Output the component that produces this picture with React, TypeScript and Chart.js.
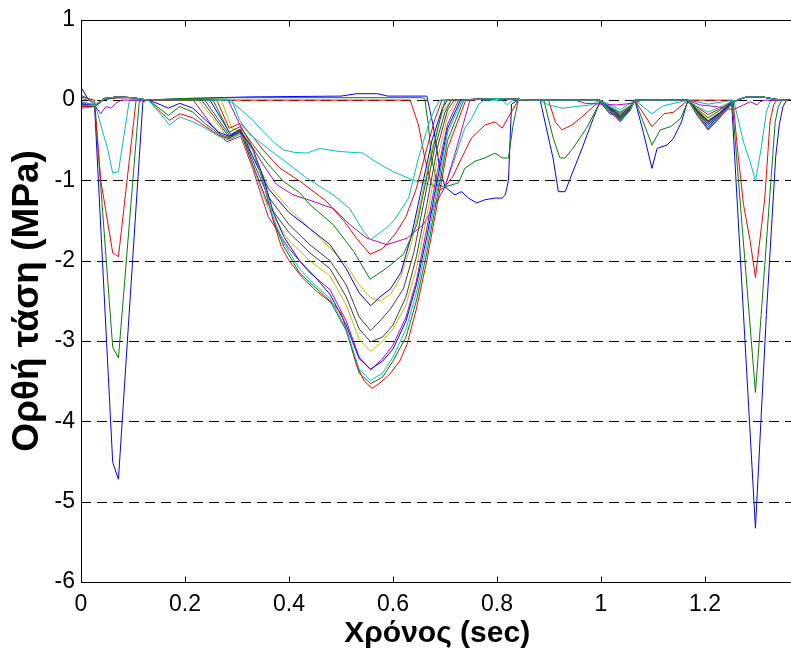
import React, { useEffect, useRef } from "react";
import { Chart, registerables } from "chart.js";

Chart.register(...registerables);

type P = [number, number];

// MATLAB default colour order
const BLUE = "#0000ff";
const GREEN = "#008000";
const RED = "#ff0000";
const CYAN = "#00bfbf";
const MAGENTA = "#bf00bf";
const YELLOW = "#bfbf00";
const GRAY = "#404040";

const X_TICKS = [0, 0.2, 0.4, 0.6, 0.8, 1, 1.2];
const Y_TICKS = [1, 0, -1, -2, -3, -4, -5, -6];
const Y_GRID = [0, -1, -2, -3, -4, -5];
const X_LABEL = "Χρόνος (sec)";
const Y_LABEL = "Ορθή τάση (MPa)";

// [time (sec), stress (MPa)]
const S01: P[] = [[0,0.16],[0.013,0.02],[0.026,-0.06],[0.061,-4.51],[0.072,-4.72],[0.119,-0.02],[0.128,0],[0.2,0.02],[0.325,0.04],[0.5,0.05],[0.53,0.08],[0.57,0.08],[0.59,0.05],[0.665,0.05],[0.677,-0.31],[0.69,-0.85],[0.7,-1.08],[0.719,-1.18],[0.732,-1.14],[0.745,-1.22],[0.761,-1.28],[0.777,-1.24],[0.796,-1.22],[0.81,-1.22],[0.816,-1.18],[0.822,-1.0],[0.828,-0.05],[0.84,0],[0.883,0],[0.908,-0.73],[0.918,-1.14],[0.931,-1.14],[0.946,-0.89],[0.966,-0.56],[0.985,-0.23],[0.998,-0.02],[1.017,-0.17],[1.037,-0.21],[1.056,-0.12],[1.065,0],[1.081,-0.39],[1.098,-0.85],[1.108,-0.6],[1.127,-0.56],[1.139,-0.48],[1.155,-0.27],[1.167,0],[1.185,-0.15],[1.206,-0.3],[1.228,-0.2],[1.245,-0.05],[1.251,0],[1.297,-5.33],[1.318,-2.67],[1.336,-0.7],[1.343,-0.3],[1.35,-0.08],[1.357,0],[1.37,0]];
const S02: P[] = [[0,0.06],[0.013,0.02],[0.026,-0.03],[0.061,-3.08],[0.072,-3.21],[0.112,-0.02],[0.12,0],[0.2,0.02],[0.3,0.03],[0.655,0.03],[0.661,0.02],[0.668,-0.31],[0.674,-0.72],[0.685,-1.05],[0.7,-1.08],[0.726,-1.03],[0.738,-0.85],[0.758,-0.76],[0.777,-0.72],[0.796,-0.66],[0.81,-0.72],[0.822,-0.72],[0.831,-0.31],[0.841,0],[0.89,0],[0.908,-0.47],[0.921,-0.72],[0.931,-0.72],[0.946,-0.6],[0.972,-0.35],[0.998,-0.03],[1.017,-0.15],[1.037,-0.22],[1.056,-0.1],[1.065,0],[1.08,-0.25],[1.098,-0.56],[1.114,-0.37],[1.134,-0.33],[1.153,-0.23],[1.167,-0.02],[1.185,-0.14],[1.206,-0.27],[1.228,-0.17],[1.248,-0.03],[1.252,0],[1.297,-3.64],[1.308,-2.67],[1.335,-0.27],[1.341,-0.08],[1.348,0],[1.37,0]];
const S03: P[] = [[0,0.04],[0.013,0.02],[0.026,0],[0.038,-1.0],[0.061,-1.9],[0.072,-1.95],[0.106,0],[0.633,0],[0.649,-0.31],[0.661,-0.72],[0.674,-1.05],[0.688,-1.13],[0.7,-1.08],[0.715,-0.95],[0.732,-0.72],[0.751,-0.47],[0.777,-0.31],[0.796,-0.27],[0.81,-0.35],[0.822,-0.21],[0.841,0],[0.899,0],[0.912,-0.27],[0.925,-0.37],[0.944,-0.31],[0.963,-0.21],[0.996,-0.02],[1.0,0],[1.017,-0.1],[1.037,-0.15],[1.056,-0.07],[1.065,0],[1.08,-0.15],[1.098,-0.33],[1.121,-0.17],[1.14,-0.15],[1.167,0],[1.254,0],[1.261,-0.52],[1.274,-1.3],[1.287,-1.76],[1.297,-2.21],[1.315,-1.22],[1.325,-0.27],[1.332,-0.06],[1.338,0],[1.37,0]];
const S04: P[] = [[0,0.02],[0.026,-0.02],[0.038,-0.31],[0.051,-0.6],[0.061,-0.91],[0.072,-0.89],[0.093,0],[0.28,0],[0.295,-0.05],[0.312,-0.145],[0.33,-0.25],[0.35,-0.39],[0.37,-0.52],[0.389,-0.62],[0.41,-0.65],[0.434,-0.66],[0.46,-0.6],[0.475,-0.62],[0.498,-0.64],[0.52,-0.65],[0.543,-0.66],[0.56,-0.74],[0.575,-0.8],[0.6,-0.89],[0.64,-1.0],[0.67,-1.05],[0.7,-1.08],[0.715,-0.8],[0.738,-0.35],[0.751,-0.23],[0.765,-0.05],[0.775,0],[0.81,0],[0.82,-0.06],[0.83,0],[0.88,0],[0.9,-0.06],[0.925,-0.1],[0.953,-0.08],[0.98,-0.06],[0.998,0],[1.037,-0.12],[1.065,0],[1.098,-0.17],[1.12,-0.07],[1.167,0],[1.206,-0.05],[1.255,0],[1.274,-0.52],[1.287,-0.77],[1.297,-1.01],[1.308,-0.6],[1.318,-0.15],[1.325,-0.02],[1.33,0],[1.37,0]];
const S05: P[] = [[0,-0.02],[0.026,-0.06],[0.038,-0.17],[0.048,-0.08],[0.058,-0.1],[0.067,-0.04],[0.077,0],[0.283,0],[0.305,-0.3],[0.331,-0.6],[0.35,-0.8],[0.376,-1.05],[0.408,-1.18],[0.446,-1.26],[0.485,-1.35],[0.517,-1.55],[0.55,-1.72],[0.588,-1.8],[0.627,-1.72],[0.658,-1.55],[0.677,-1.35],[0.7,-1.08],[0.72,-0.65],[0.735,-0.3],[0.748,0],[0.8,0.02],[0.86,0],[0.95,0],[0.97,-0.04],[1.0,-0.05],[1.03,-0.06],[1.06,-0.04],[1.08,0],[1.167,0],[1.19,-0.06],[1.22,-0.08],[1.254,-0.12],[1.274,-0.06],[1.287,-0.02],[1.3,-0.06],[1.306,-0.02],[1.315,0],[1.37,0]];
const S06: P[] = [[0,-0.06],[0.027,-0.07],[0.045,0.01],[0.07,0.03],[0.1,0.03],[0.125,0],[0.27,0],[0.29,-0.35],[0.307,-0.4],[0.33,-0.7],[0.36,-1.05],[0.4,-1.35],[0.44,-1.6],[0.479,-1.84],[0.51,-2.05],[0.535,-2.3],[0.557,-2.46],[0.575,-2.5],[0.595,-2.42],[0.615,-2.2],[0.635,-1.8],[0.655,-1.2],[0.675,-0.6],[0.695,-0.15],[0.712,0],[0.76,0.01],[0.8,0.02],[0.84,0.01],[0.86,0],[0.998,0],[1.017,-0.1],[1.037,-0.2],[1.056,-0.1],[1.065,0],[1.167,0],[1.185,-0.12],[1.206,-0.25],[1.228,-0.15],[1.25,-0.04],[1.262,0],[1.28,0.04],[1.31,0.04],[1.335,0.01],[1.35,0],[1.37,0]];
const S07: P[] = [[0,-0.08],[0.027,-0.07],[0.045,0.02],[0.07,0.04],[0.1,0.03],[0.125,0],[0.238,0],[0.287,-0.45],[0.307,-0.38],[0.33,-0.75],[0.36,-1.2],[0.4,-1.55],[0.44,-1.8],[0.479,-2.0],[0.51,-2.3],[0.535,-2.7],[0.557,-2.87],[0.575,-2.75],[0.595,-2.6],[0.62,-2.35],[0.64,-1.9],[0.66,-1.25],[0.68,-0.6],[0.7,-0.15],[0.712,0],[0.76,0.01],[0.8,0.02],[0.84,0.01],[0.86,0],[0.998,0],[1.017,-0.1],[1.037,-0.21],[1.056,-0.1],[1.065,0],[1.167,0],[1.185,-0.14],[1.206,-0.28],[1.228,-0.17],[1.25,-0.04],[1.262,0],[1.28,0.04],[1.31,0.04],[1.335,0.01],[1.35,0],[1.37,0]];
const S08: P[] = [[0,-0.07],[0.027,-0.07],[0.045,0.02],[0.07,0.04],[0.1,0.03],[0.125,0],[0.248,0],[0.288,-0.43],[0.307,-0.36],[0.33,-0.7],[0.36,-1.1],[0.4,-1.4],[0.44,-1.6],[0.479,-1.8],[0.51,-2.1],[0.535,-2.4],[0.557,-2.56],[0.575,-2.45],[0.595,-2.35],[0.615,-2.15],[0.635,-1.7],[0.655,-1.1],[0.675,-0.5],[0.695,-0.1],[0.705,0],[0.76,0.01],[0.8,0.02],[0.84,0.01],[0.86,0],[0.998,0],[1.017,-0.1],[1.037,-0.19],[1.056,-0.09],[1.065,0],[1.167,0],[1.185,-0.13],[1.206,-0.26],[1.228,-0.16],[1.25,-0.04],[1.262,0],[1.28,0.04],[1.31,0.04],[1.335,0.01],[1.35,0],[1.37,0]];
const S09: P[] = [[0,-0.05],[0.027,-0.07],[0.045,0.02],[0.07,0.04],[0.1,0.03],[0.125,0],[0.254,0],[0.285,-0.4],[0.306,-0.33],[0.33,-0.55],[0.36,-0.8],[0.389,-1.01],[0.42,-1.15],[0.44,-1.3],[0.485,-1.55],[0.524,-1.88],[0.556,-2.23],[0.588,-2.09],[0.62,-1.92],[0.646,-1.55],[0.67,-0.8],[0.69,-0.25],[0.7,0],[0.76,0.01],[0.8,0.02],[0.84,0.01],[0.86,0],[0.998,0],[1.017,-0.09],[1.037,-0.18],[1.056,-0.09],[1.065,0],[1.167,0],[1.185,-0.11],[1.206,-0.22],[1.228,-0.13],[1.25,-0.03],[1.262,0],[1.28,0.04],[1.31,0.04],[1.335,0.01],[1.35,0],[1.37,0]];
const S10: P[] = [[0,-0.04],[0.027,-0.06],[0.045,0.02],[0.07,0.04],[0.1,0.03],[0.125,0],[0.261,0],[0.285,-0.35],[0.306,-0.29],[0.33,-0.45],[0.35,-0.62],[0.383,-0.85],[0.421,-1.01],[0.472,-1.26],[0.505,-1.5],[0.53,-1.72],[0.556,-1.92],[0.58,-1.85],[0.604,-1.67],[0.625,-1.45],[0.645,-1.1],[0.665,-0.6],[0.68,-0.25],[0.694,0],[0.76,0.01],[0.8,0.02],[0.84,0.01],[0.86,0],[0.998,0],[1.017,-0.08],[1.037,-0.16],[1.056,-0.08],[1.065,0],[1.167,0],[1.185,-0.09],[1.206,-0.18],[1.228,-0.11],[1.25,-0.03],[1.262,0],[1.28,0.04],[1.31,0.04],[1.335,0.01],[1.35,0],[1.37,0]];
const S11: P[] = [[0,-0.03],[0.027,-0.06],[0.045,0.02],[0.07,0.04],[0.1,0.03],[0.125,0],[0.29,0],[0.305,-0.25],[0.325,-0.43],[0.363,-0.62],[0.4,-0.8],[0.434,-0.97],[0.485,-1.18],[0.517,-1.35],[0.54,-1.6],[0.556,-1.74],[0.575,-1.65],[0.588,-1.59],[0.604,-1.48],[0.63,-1.22],[0.649,-0.72],[0.668,-0.31],[0.681,-0.1],[0.69,0],[0.76,0.01],[0.8,0.02],[0.84,0.01],[0.86,0],[0.998,0],[1.017,-0.08],[1.037,-0.15],[1.056,-0.07],[1.065,0],[1.167,0],[1.185,-0.08],[1.206,-0.15],[1.228,-0.09],[1.25,-0.02],[1.262,0],[1.28,0.04],[1.31,0.04],[1.335,0.01],[1.35,0],[1.37,0]];
const S12: P[] = [[0,-0.1],[0.027,-0.08],[0.045,0.01],[0.07,0.03],[0.1,0.03],[0.125,0],[0.216,0],[0.25,-0.3],[0.28,-0.52],[0.307,-0.45],[0.33,-0.85],[0.36,-1.45],[0.4,-1.85],[0.44,-2.15],[0.479,-2.36],[0.51,-2.75],[0.535,-3.2],[0.557,-3.36],[0.58,-3.22],[0.6,-3.05],[0.625,-2.7],[0.645,-2.25],[0.665,-1.6],[0.685,-0.9],[0.705,-0.3],[0.726,0],[0.76,0.01],[0.8,0.02],[0.84,0.01],[0.86,0],[0.998,0],[1.017,-0.13],[1.037,-0.25],[1.056,-0.12],[1.065,0],[1.167,0],[1.185,-0.18],[1.206,-0.37],[1.228,-0.22],[1.25,-0.06],[1.262,0],[1.28,0.04],[1.31,0.04],[1.335,0.01],[1.35,0],[1.37,0]];
const S13: P[] = [[0,-0.09],[0.027,-0.08],[0.045,0.02],[0.07,0.04],[0.1,0.03],[0.125,0],[0.226,0],[0.285,-0.49],[0.307,-0.42],[0.33,-0.82],[0.36,-1.35],[0.4,-1.75],[0.44,-2.0],[0.479,-2.19],[0.51,-2.55],[0.535,-2.98],[0.557,-3.13],[0.58,-3.0],[0.6,-2.85],[0.625,-2.55],[0.645,-2.1],[0.665,-1.45],[0.685,-0.75],[0.705,-0.2],[0.722,0],[0.76,0.01],[0.8,0.02],[0.84,0.01],[0.86,0],[0.998,0],[1.017,-0.12],[1.037,-0.23],[1.056,-0.11],[1.065,0],[1.167,0],[1.185,-0.16],[1.206,-0.31],[1.228,-0.19],[1.25,-0.05],[1.262,0],[1.28,0.04],[1.31,0.04],[1.335,0.01],[1.35,0],[1.37,0]];
const S14: P[] = [[0,-0.08],[0.027,-0.08],[0.045,0.01],[0.07,0.03],[0.1,0.03],[0.125,0],[0.232,0],[0.286,-0.47],[0.307,-0.4],[0.33,-0.8],[0.36,-1.3],[0.4,-1.65],[0.44,-1.9],[0.479,-2.1],[0.51,-2.45],[0.535,-2.85],[0.557,-3.01],[0.58,-2.95],[0.6,-2.8],[0.625,-2.45],[0.645,-1.95],[0.665,-1.3],[0.685,-0.6],[0.705,-0.12],[0.718,0],[0.76,0.01],[0.8,0.02],[0.84,0.01],[0.86,0],[0.998,0],[1.017,-0.11],[1.037,-0.22],[1.056,-0.11],[1.065,0],[1.167,0],[1.185,-0.15],[1.206,-0.3],[1.228,-0.18],[1.25,-0.05],[1.262,0],[1.28,0.04],[1.31,0.04],[1.335,0.01],[1.35,0],[1.37,0]];
const S15: P[] = [[0,-0.05],[0.027,-0.07],[0.045,0.02],[0.07,0.04],[0.1,0.03],[0.13,0],[0.15,-0.05],[0.168,-0.1],[0.19,-0.04],[0.215,-0.1],[0.24,-0.25],[0.265,-0.4],[0.285,-0.45],[0.305,-0.38],[0.33,-0.6],[0.35,-0.95],[0.37,-1.4],[0.39,-1.7],[0.42,-2.0],[0.45,-2.2],[0.479,-2.42],[0.51,-2.8],[0.535,-3.22],[0.557,-3.35],[0.58,-3.25],[0.6,-3.1],[0.625,-2.75],[0.645,-2.3],[0.665,-1.7],[0.685,-1.0],[0.705,-0.35],[0.73,0],[0.76,0.01],[0.8,0.02],[0.84,0.01],[0.86,0],[0.998,0],[1.017,-0.12],[1.037,-0.24],[1.056,-0.12],[1.065,0],[1.167,0],[1.185,-0.17],[1.206,-0.33],[1.228,-0.2],[1.25,-0.05],[1.262,0],[1.28,0.04],[1.31,0.04],[1.335,0.01],[1.35,0],[1.37,0]];
const S16: P[] = [[0,-0.07],[0.027,-0.07],[0.045,0.02],[0.07,0.04],[0.1,0.03],[0.13,0],[0.15,-0.1],[0.168,-0.19],[0.19,-0.08],[0.215,-0.15],[0.24,-0.3],[0.265,-0.42],[0.285,-0.47],[0.305,-0.4],[0.33,-0.6],[0.35,-1.0],[0.37,-1.5],[0.39,-1.82],[0.42,-2.15],[0.45,-2.33],[0.479,-2.5],[0.51,-2.87],[0.535,-3.4],[0.557,-3.53],[0.58,-3.45],[0.6,-3.25],[0.625,-2.95],[0.645,-2.5],[0.665,-1.9],[0.685,-1.2],[0.705,-0.5],[0.736,0],[0.76,0.01],[0.8,0.02],[0.84,0.01],[0.86,0],[0.998,0],[1.017,-0.13],[1.037,-0.26],[1.056,-0.13],[1.065,0],[1.167,0],[1.185,-0.18],[1.206,-0.36],[1.228,-0.22],[1.25,-0.06],[1.262,0],[1.28,0.04],[1.31,0.04],[1.335,0.01],[1.35,0],[1.37,0]];
const S17: P[] = [[0,-0.08],[0.027,-0.07],[0.045,0.02],[0.07,0.04],[0.1,0.03],[0.13,0],[0.15,-0.13],[0.17,-0.25],[0.19,-0.17],[0.215,-0.22],[0.24,-0.33],[0.265,-0.44],[0.285,-0.48],[0.305,-0.36],[0.33,-0.6],[0.35,-1.01],[0.37,-1.51],[0.385,-1.82],[0.4,-2.0],[0.427,-2.22],[0.453,-2.38],[0.485,-2.54],[0.5,-2.65],[0.515,-2.95],[0.53,-3.3],[0.545,-3.5],[0.56,-3.59],[0.575,-3.52],[0.594,-3.41],[0.613,-3.25],[0.627,-3.04],[0.645,-2.6],[0.665,-2.0],[0.685,-1.3],[0.705,-0.6],[0.74,0],[0.76,0.01],[0.8,0.02],[0.84,0.01],[0.86,0],[0.998,0],[1.017,-0.14],[1.037,-0.27],[1.056,-0.13],[1.065,0],[1.167,0],[1.185,-0.19],[1.206,-0.37],[1.228,-0.22],[1.25,-0.06],[1.262,0],[1.28,0.04],[1.31,0.04],[1.335,0.01],[1.35,0],[1.37,0]];
const S18: P[] = [[0,-0.06],[0.027,-0.07],[0.045,0.02],[0.07,0.04],[0.1,0.03],[0.13,0],[0.15,-0.15],[0.17,-0.31],[0.19,-0.21],[0.215,-0.27],[0.24,-0.35],[0.265,-0.45],[0.285,-0.5],[0.305,-0.42],[0.33,-0.62],[0.35,-1.0],[0.37,-1.47],[0.39,-1.78],[0.42,-2.1],[0.45,-2.3],[0.479,-2.47],[0.51,-2.85],[0.535,-3.35],[0.557,-3.49],[0.58,-3.4],[0.6,-3.2],[0.625,-2.85],[0.645,-2.4],[0.665,-1.8],[0.685,-1.1],[0.705,-0.4],[0.733,0],[0.76,0.01],[0.8,0.02],[0.84,0.01],[0.86,0],[0.998,0],[1.017,-0.13],[1.037,-0.26],[1.056,-0.13],[1.065,0],[1.167,0],[1.185,-0.17],[1.206,-0.35],[1.228,-0.21],[1.25,-0.05],[1.262,0],[1.28,0.04],[1.31,0.04],[1.335,0.01],[1.35,0],[1.37,0]];

const SERIES: P[][] = [S01, S02, S03, S04, S05, S06, S07, S08, S09, S10, S11, S12, S13, S14, S15, S16, S17, S18];
const COLORS = [BLUE, GREEN, RED, CYAN, MAGENTA, YELLOW, GRAY, BLUE, GREEN, RED, CYAN, MAGENTA, YELLOW, GRAY, BLUE, GREEN, RED, CYAN];

const FONT = "'Liberation Sans', Arial, Helvetica, sans-serif";

const frame = {
  id: "matlabFrame",
  beforeDatasetsDraw(chart: any) {
    const { ctx, chartArea: a, scales } = chart;
    ctx.save();
    ctx.strokeStyle = "#000";
    ctx.lineWidth = 1;
    ctx.setLineDash([10, 6]);
    for (const v of Y_GRID) {
      const y = Math.round(scales.y.getPixelForValue(v)) + 0.5;
      ctx.beginPath();
      ctx.moveTo(a.left, y);
      ctx.lineTo(a.right, y);
      ctx.stroke();
    }
    ctx.restore();
  },
  afterDatasetsDraw(chart: any) {
    const { ctx, chartArea: a, scales } = chart;
    const L = Math.round(a.left) + 0.5;
    const T = Math.round(a.top) + 0.5;
    const B = Math.round(a.bottom) + 0.5;
    const R = Math.round(a.right) + 0.5;
    ctx.save();
    ctx.strokeStyle = "#000";
    ctx.lineWidth = 1;
    ctx.setLineDash([]);
    ctx.strokeRect(L, T, R - L, B - T);
    const tl = 6;
    ctx.beginPath();
    for (const v of X_TICKS) {
      const x = Math.round(scales.x.getPixelForValue(v)) + 0.5;
      ctx.moveTo(x, B);
      ctx.lineTo(x, B - tl);
      ctx.moveTo(x, T);
      ctx.lineTo(x, T + tl);
    }
    for (const v of Y_TICKS) {
      const y = Math.round(scales.y.getPixelForValue(v)) + 0.5;
      ctx.moveTo(L, y);
      ctx.lineTo(L + tl, y);
      ctx.moveTo(R, y);
      ctx.lineTo(R - tl, y);
    }
    ctx.stroke();
    ctx.restore();
  },
};

const fmt = (v: number) => String(Math.round(v * 10) / 10);

export default function App() {
  const ref = useRef<HTMLCanvasElement>(null);
  useEffect(() => {
    if (!ref.current) return;
    const chart = new Chart(ref.current, {
      type: "line",
      data: {
        datasets: SERIES.map((s, i) => ({
          data: s.map(([x, y]) => ({ x, y })),
          borderColor: COLORS[i],
          backgroundColor: COLORS[i],
          borderWidth: 1,
          pointRadius: 0,
          tension: 0,
          fill: false,
          order: -i,
        })),
      },
      options: {
        animation: false,
        responsive: false,
        devicePixelRatio: 1,
        layout: { padding: { left: 0, top: 18, right: 6.6, bottom: 0 } },
        plugins: { legend: { display: false }, tooltip: { enabled: false } },
        scales: {
          x: {
            type: "linear",
            min: 0,
            max: 1.37,
            grid: { display: false, drawTicks: false },
            border: { display: false },
            ticks: {
              color: "#000",
              font: { family: FONT, size: 23 },
              padding: 9,
              maxRotation: 0,
              autoSkip: false,
              callback: (v: any) => fmt(Number(v)),
            },
            afterBuildTicks: (s: any) => {
              s.ticks = X_TICKS.map((v) => ({ value: v }));
            },
            afterFit: (s: any) => {
              s.height = 76;
            },
            title: {
              display: true,
              text: X_LABEL,
              color: "#000",
              font: { family: FONT, size: 30, weight: "bold" },
              padding: { top: 0, bottom: 6 },
            },
          },
          y: {
            type: "linear",
            min: -6,
            max: 1,
            grid: { display: false, drawTicks: false },
            border: { display: false },
            ticks: {
              color: "#000",
              font: { family: FONT, size: 23 },
              padding: 6,
              autoSkip: false,
              callback: (v: any) => fmt(Number(v)),
            },
            afterBuildTicks: (s: any) => {
              s.ticks = Y_TICKS.map((v) => ({ value: v }));
            },
            afterFit: (s: any) => {
              s.width = 81;
            },
            title: {
              display: true,
              text: Y_LABEL,
              color: "#000",
              font: { family: FONT, size: 37, weight: "bold" },
              padding: { top: 6, bottom: 0 },
            },
          },
        },
      },
      plugins: [frame],
    } as any);
    return () => chart.destroy();
  }, []);
  return (
    <div
      style={{
        position: "absolute",
        left: 0,
        top: 0,
        width: 791,
        height: 658,
        overflow: "hidden",
        background: "#fff",
      }}
    >
      <canvas ref={ref} width={800} height={658} style={{ display: "block", width: 800, height: 658 }} />
    </div>
  );
}
